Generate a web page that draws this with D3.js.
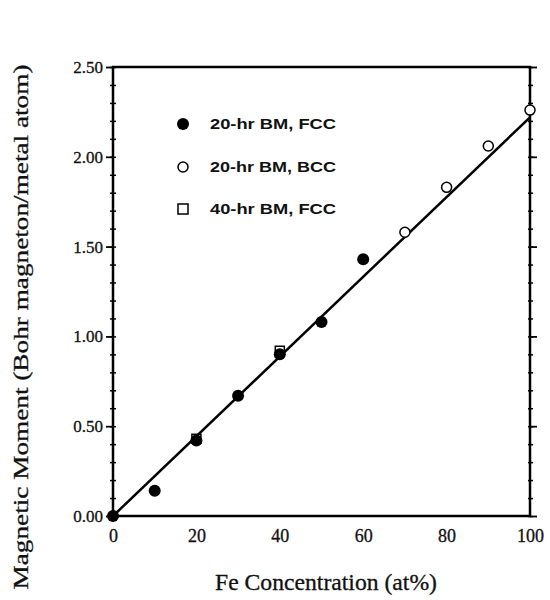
<!DOCTYPE html>
<html>
<head>
<meta charset="utf-8">
<script src="https://cdn.jsdelivr.net/npm/d3@7"></script>
<style>
  body { margin: 0; background: #fff; }
  svg text { fill: #111; }
</style>
</head>
<body>
<div id="chart"></div>
<script>
// data
const fcc20x = [0, 10, 20, 30, 40, 50, 60]
const fcc20y = [0, 0.14, 0.42, 0.67, 0.9, 1.08, 1.43]
const bcc20x = [70, 80, 90, 100]
const bcc20y = [1.58, 1.83, 2.06, 2.26]
const fcc40x = [20, 40]
const fcc40y = [0.43, 0.92]
const fitX = [0, 100]
const fitY = [0, 2.22]
const xTicks = [0, 20, 40, 60, 80, 100]
const yTicks = [0, 0.5, 1.0, 1.5, 2.0, 2.5]
const legendLabels = ['20-hr BM, FCC', '20-hr BM, BCC', '40-hr BM, FCC']

const margin = { top: 67, left: 113, right: 20, bottom: 84 }
const width = 530 - margin.left
const height = 516 - margin.top

const svg = d3
  .select('#chart')
  .append('svg')
  .attr('width', 550)
  .attr('height', 600)

const g = svg
  .append('g')
  .attr('transform', 'translate(' + margin.left + ',' + margin.top + ')')

const x = d3.scaleLinear().domain([0, 100]).range([0, width])
const y = d3.scaleLinear().domain([0, 2.5]).range([height, 0])

const serif = 'Liberation Serif, Times New Roman, serif'

// minor ticks, left and right
const minor = d3.range(0, 2.51, 0.1)
g.append('g')
  .call(d3.axisLeft(y).tickValues(minor).tickSize(3).tickFormat(''))
  .call(s => s.select('.domain').remove())
  .selectAll('line').attr('stroke-width', 1.5).attr('x2', 3).attr('x1', -3)
g.append('g')
  .attr('transform', 'translate(' + width + ',0)')
  .call(d3.axisRight(y).tickValues(minor).tickSize(3).tickFormat(''))
  .call(s => s.select('.domain').remove())
  .selectAll('line').attr('stroke-width', 1.5).attr('x1', -2)

// major ticks
const yAxis = d3.axisLeft(y).tickValues(yTicks).tickSize(7).tickPadding(3).tickFormat(d3.format('.2f'))
g.append('g')
  .attr('class', 'axis y-axis')
  .call(yAxis)
  .call(s => s.select('.domain').remove())
  .call(s => s.selectAll('line').attr('stroke-width', 1.8))
  .call(s => s.selectAll('text').attr('font-family', serif).attr('font-size', 17)
    .attr('stroke', '#111').attr('stroke-width', 0.3))

g.append('g')
  .attr('transform', 'translate(' + width + ',0)')
  .call(d3.axisRight(y).tickValues(yTicks).tickSize(7).tickFormat(''))
  .call(s => s.select('.domain').remove())
  .call(s => s.selectAll('line').attr('stroke-width', 1.8))

const xAxis = d3.axisBottom(x).tickValues(xTicks).tickSize(0).tickPadding(13).tickFormat(d3.format('d'))
g.append('g')
  .attr('class', 'axis x-axis')
  .attr('transform', 'translate(0,' + height + ')')
  .call(xAxis)
  .call(s => s.select('.domain').remove())
  .call(s => s.selectAll('text').attr('font-family', serif).attr('font-size', 18)
    .attr('stroke', '#111').attr('stroke-width', 0.3))

// frame
g.append('rect')
  .attr('width', width)
  .attr('height', height)
  .attr('fill', 'none')
  .attr('stroke', '#000')
  .attr('stroke-width', 2.5)

// fit line
const line = d3.line().x(d => x(d[0])).y(d => y(d[1]))
g.append('path')
  .datum(d3.zip(fitX, fitY))
  .attr('d', line)
  .attr('fill', 'none')
  .attr('stroke', '#000')
  .attr('stroke-width', 2.5)

// 40-hr squares (mostly hidden behind the filled dots)
g.selectAll('.sq')
  .data(d3.zip(fcc40x, fcc40y))
  .join('rect')
  .attr('class', 'sq')
  .attr('x', d => x(d[0]) - 4.5)
  .attr('y', d => y(d[1]) - 4.5)
  .attr('width', 9)
  .attr('height', 9)
  .attr('fill', '#fff')
  .attr('stroke', '#000')
  .attr('stroke-width', 1.5)

g.selectAll('.fcc')
  .data(d3.zip(fcc20x, fcc20y))
  .join('circle')
  .attr('class', 'fcc')
  .attr('cx', d => x(d[0]))
  .attr('cy', d => y(d[1]))
  .attr('r', 6)
  .attr('fill', '#000')

g.selectAll('.bcc')
  .data(d3.zip(bcc20x, bcc20y))
  .join('circle')
  .attr('class', 'bcc')
  .attr('cx', d => x(d[0]))
  .attr('cy', d => y(d[1]))
  .attr('r', 5)
  .attr('fill', '#fff')
  .attr('stroke', '#000')
  .attr('stroke-width', 1.5)

// legend
const legend = svg.append('g').attr('transform', 'translate(183,124)')
legendLabels.forEach((label, i) => {
  const row = legend.append('g').attr('transform', 'translate(0,' + [0, 43, 85][i] + ')')
  if (i === 0) row.append('circle').attr('r', 6).attr('fill', '#000')
  if (i === 1) row.append('circle').attr('r', 5).attr('fill', '#fff').attr('stroke', '#000').attr('stroke-width', 1.5)
  if (i === 2) row.append('rect').attr('x', -5).attr('y', -5).attr('width', 10).attr('height', 10)
    .attr('fill', '#fff').attr('stroke', '#000').attr('stroke-width', 1.5)
  row.append('text')
    .attr('x', 27)
    .attr('dy', '0.35em')
    .attr('font-family', 'Liberation Sans, Arial, sans-serif')
    .attr('font-size', 15)
    .attr('font-weight', 'bold')
    .attr('textLength', 126)
    .attr('lengthAdjust', 'spacingAndGlyphs')
    .text(label)
})

// axis titles
svg.append('text')
  .attr('x', 326)
  .attr('y', 590)
  .attr('text-anchor', 'middle')
  .attr('font-family', serif)
  .attr('font-size', 23)
  .attr('stroke', '#111').attr('stroke-width', 0.3)
  .attr('textLength', 222)
  .attr('lengthAdjust', 'spacingAndGlyphs')
  .text('Fe Concentration (at%)')

svg.append('text')
  .attr('transform', 'translate(28,327) rotate(-90)')
  .attr('text-anchor', 'middle')
  .attr('font-family', serif)
  .attr('font-size', 21)
  .attr('stroke', '#111').attr('stroke-width', 0.3)
  .attr('textLength', 525)
  .attr('lengthAdjust', 'spacingAndGlyphs')
  .text('Magnetic Moment (Bohr magneton/metal atom)')
</script>
</body>
</html>
